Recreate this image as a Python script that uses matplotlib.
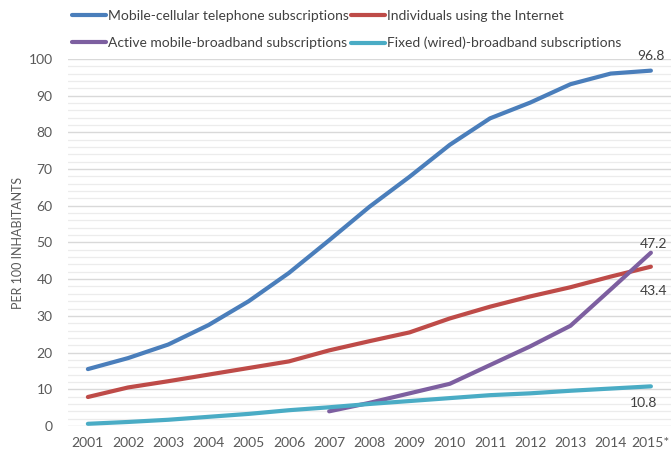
import matplotlib
matplotlib.use("Agg")
import matplotlib.pyplot as plt
from matplotlib.ticker import MultipleLocator

years = ["2001", "2002", "2003", "2004", "2005", "2006", "2007", "2008",
         "2009", "2010", "2011", "2012", "2013", "2014", "2015*"]
mobile_cellular = [15.5, 18.5, 22.2, 27.5, 34.0, 41.7, 50.6, 59.7, 67.9, 76.6, 83.8, 88.1, 93.1, 96.0, 96.8]
internet_users = [7.9, 10.5, 12.2, 14.0, 15.8, 17.6, 20.6, 23.1, 25.5, 29.3, 32.5, 35.3, 37.8, 40.7, 43.4]
mobile_bb_years = years[6:]
mobile_broadband = [4.0, 6.3, 8.9, 11.5, 16.6, 21.7, 27.3, 37.2, 47.2]
fixed_broadband = [0.6, 1.1, 1.7, 2.5, 3.3, 4.3, 5.1, 6.0, 6.8, 7.6, 8.4, 8.9, 9.6, 10.2, 10.8]

labels = ["Mobile-cellular telephone subscriptions", "Individuals using the Internet",
          "Active mobile-broadband subscriptions", "Fixed (wired)-broadband subscriptions"]
colors = ["#4a7ebb", "#be4b48", "#7d5fa0", "#4aacc5"]

plt.rcParams['font.family'] = ['Lato', 'DejaVu Sans']

fig = plt.figure(figsize=(6.71, 4.53), dpi=100)
ax = fig.add_axes([0.101, 0.0596, 0.899, 0.8104])

x_all = list(range(len(years)))
x_bb = list(range(6, len(years)))
lw = 3.0
l1, = ax.plot(x_all, mobile_cellular, color=colors[0], lw=lw, solid_capstyle='round')
l2, = ax.plot(x_all, internet_users, color=colors[1], lw=lw, solid_capstyle='round')
l3, = ax.plot(x_bb, mobile_broadband, color=colors[2], lw=lw, solid_capstyle='round')
l4, = ax.plot(x_all, fixed_broadband, color=colors[3], lw=lw, solid_capstyle='round')

ax.set_xlim(-0.5, len(years) - 0.5)
ax.set_ylim(0, 100)
ax.set_xticks(x_all)
ax.set_xticklabels(years)
ax.yaxis.set_major_locator(MultipleLocator(10))
ax.yaxis.set_minor_locator(MultipleLocator(2))
ax.grid(axis='y', which='major', color='#d9d9d9', lw=1.0)
ax.grid(axis='y', which='minor', color='#ececec', lw=0.9)
ax.set_axisbelow(True)
for s in ax.spines.values():
    s.set_visible(False)
ax.tick_params(axis='both', which='both', length=0, colors='#595959', labelsize=10)
ax.tick_params(axis='y', pad=11)
ax.tick_params(axis='x', pad=8)
ax.set_ylabel("PER 100 INHABITANTS", fontsize=9, color='#595959')
ax.yaxis.set_label_coords(-0.072, 0.5)

last = len(years) - 1
ax.annotate(f"{mobile_cellular[-1]}", (last, mobile_cellular[-1]), xytext=(0, 6),
            textcoords='offset points', ha='center', va='bottom', fontsize=10, color='#404040')
ax.annotate(f"{mobile_broadband[-1]}", (last, mobile_broadband[-1]), xytext=(2, 2),
            textcoords='offset points', ha='center', va='bottom', fontsize=10, color='#404040')
ax.annotate(f"{internet_users[-1]}", (last, internet_users[-1]), xytext=(2, -13),
            textcoords='offset points', ha='center', va='top', fontsize=10, color='#404040')
ax.annotate(f"{fixed_broadband[-1]}", (last, fixed_broadband[-1]), xytext=(-5, -8),
            textcoords='offset points', ha='center', va='top', fontsize=10, color='#404040')

fig.legend([l1, l3, l2, l4], [labels[0], labels[2], labels[1], labels[3]],
           ncol=2, loc='upper left', bbox_to_anchor=(0.089, 1.005), frameon=False,
           fontsize=10, handlelength=2.4, handletextpad=0.15, columnspacing=0.2,
           labelspacing=1.05, labelcolor='#404040')

fig.savefig("out.png", dpi=100)
